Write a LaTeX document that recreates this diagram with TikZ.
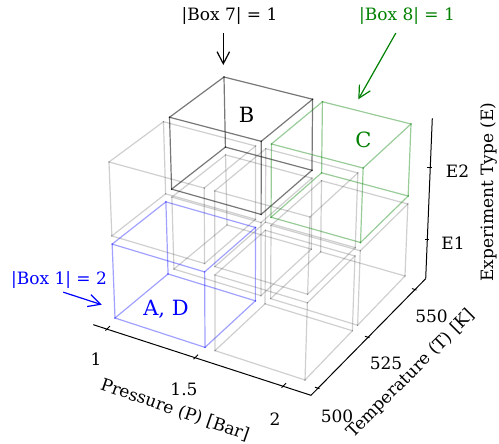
\documentclass[tikz,border=0pt]{standalone}
\usepackage{fontspec}
\setmainfont{DejaVu Serif}
\usetikzlibrary{arrows.meta}
\definecolor{mplgreen}{RGB}{0,128,0}
\tikzset{
    >={Straight Barb[length=12pt,width=12.5pt]},
    graybox/.style={draw=black, draw opacity=0.19, line width=1.2pt, line cap=rect},
    bluebox/.style={draw=blue, draw opacity=0.37, line width=1.2pt, line cap=rect},
    blackbox/.style={draw=black, draw opacity=0.53, line width=1.2pt, line cap=rect},
    greenbox/.style={draw=mplgreen, draw opacity=0.4, line width=1.2pt, line cap=rect},
    axisline/.style={line width=1pt},
    axistick/.style={line width=0.9pt},
    ticklabel/.style={font=\fontsize{17}{20}\selectfont, anchor=base, inner sep=0pt},
    axislabel/.style={font=\fontsize{17}{20}\selectfont, inner sep=0pt},
    boxlabel/.style={font=\fontsize{21}{25}\selectfont, anchor=base, inner sep=0pt},
    annot/.style={font=\fontsize{17}{20}\selectfont, anchor=base, inner sep=4pt},
    annarrow/.style={->, line width=1.2pt}
}

% esquinas proyectadas de la malla 2x2x2 (px)
\newcommand{\cagept}[4]{%
    \pgfmathsetmacro{\cageu}{(#2)/1.9}%
    \pgfmathsetmacro{\cagev}{(#3)/1.9}%
    \pgfmathsetmacro{\cagew}{(#4)/1.9}%
    \pgfmathsetmacro{\cagex}{(1-\cagew)*((1-\cagev)*((1-\cageu)*115+\cageu*305)+\cagev*((1-\cageu)*227+\cageu*405))+\cagew*((1-\cagev)*((1-\cageu)*109+\cageu*310)+\cagev*((1-\cageu)*224+\cageu*411))}%
    \pgfmathsetmacro{\cagey}{(1-\cagew)*((1-\cagev)*((1-\cageu)*318+\cageu*380)+\cagev*((1-\cageu)*225+\cageu*276))+\cagew*((1-\cagev)*((1-\cageu)*162+\cageu*217)+\cagev*((1-\cageu)*77+\cageu*124))}%
    \coordinate (#1) at (\cagex,\cagey);%
}

% caja (i,j,k) con sus 12 aristas
\newcommand{\drawbox}[4]{%
    \foreach \di in {0,1}{\foreach \dj in {0,1}{\foreach \dk in {0,1}{%
        \cagept{v\di\dj\dk}{#1+0.9*\di}{#2+0.9*\dj}{#3+0.9*\dk}}}}%
    \foreach \ea/\eb in {000/100,010/110,001/101,011/111,
                         000/010,100/110,001/011,101/111,
                         000/001,100/101,010/011,110/111}{%
        \draw[#4] (v\ea) -- (v\eb);}%
}

\begin{document}
\begin{tikzpicture}[x=1pt, y=-1pt]

    \useasboundingbox (0,0) rectangle (499,444);

    % Cajas vacias
    \drawbox{0}{1}{0}{graybox}
    \drawbox{1}{1}{0}{graybox}
    \drawbox{1}{0}{0}{graybox}
    \drawbox{0}{0}{1}{graybox}
    \drawbox{1}{0}{1}{graybox}

    % Cajas ocupadas
    \drawbox{0}{0}{0}{bluebox}
    \drawbox{0}{1}{1}{blackbox}
    \drawbox{1}{1}{1}{greenbox}

    \node[boxlabel, blue]     (lblad) at (166,316)   {A, D};
    \node[boxlabel]           (lblb)  at (246.5,123) {B};
    \node[boxlabel, mplgreen] (lblc)  at (363.5,148) {C};

    % Ejes
    \coordinate (pmin) at (93.3,324.7);
    \coordinate (cor)  at (311,395.3);
    \coordinate (tmax) at (425.7,278.7);
    \coordinate (emax) at (432.3,118.3);
    \draw[axisline] (pmin) -- (cor);
    \draw[axisline] (cor) -- (tmax);
    \draw[axisline] (tmax) -- (emax);

    % Marcas y valores
    \foreach \tx/\ty in {107/329.1, 195/357.7, 283/386.2}
        \draw[axistick] (\tx-1.5,\ty+1.5) -- (\tx+3,\ty-3);
    \foreach \tx/\ty in {318/388.2, 368/337.3, 415/289.6}
        \draw[axistick] (\tx+1.5,\ty+0.5) -- (\tx-3,\ty-1);
    \foreach \tx/\ty in {427.5/239, 430.2/167}
        \draw[axistick] (\tx+1.5,\ty) -- (\tx-3,\ty);

    \node[ticklabel] (p1)  at (96,365)  {1};
    \node[ticklabel] (p15) at (184,395) {1.5};
    \node[ticklabel] (p2)  at (275,425) {2};
    \node[ticklabel] (t500) at (337,422) {500};
    \node[ticklabel] (t525) at (386,369.5) {525};
    \node[ticklabel] (t550) at (431.5,322) {550};
    \node[ticklabel] (ee1) at (453,250) {E1};
    \node[ticklabel] (ee2) at (457.5,178) {E2};

    \node[axislabel, rotate=-19] (plabel) at (175,410) {Pressure (P) [Bar]};
    \node[axislabel, rotate=45]  (tlabel) at (411,374) {Temperature (T) [K]};
    \node[axislabel, rotate=90]  (elabel) at (489,192) {Experiment Type (E)};

    % Anotaciones
    \node[annot]           (ann7) at (229.5,20.7) {|Box 7| = 1};
    \node[annot, mplgreen] (ann8) at (407,21)     {|Box 8| = 1};
    \node[annot, blue]     (ann1) at (59,284)     {|Box 1| = 2};
    \coordinate (tip7) at (223.3,65);
    \coordinate (tip8) at (358.3,99.3);
    \coordinate (tip1) at (101.7,304.7);
    \draw[annarrow, shorten <=4.5pt] ([xshift=-6.2pt]ann7.south) -- (tip7);
    \draw[annarrow, mplgreen, shorten <=4.5pt] ([xshift=-9pt]ann8.south) -- (tip8);
    \draw[annarrow, blue] ([xshift=4.3pt]ann1.south) -- (tip1);

\end{tikzpicture}
\end{document}
